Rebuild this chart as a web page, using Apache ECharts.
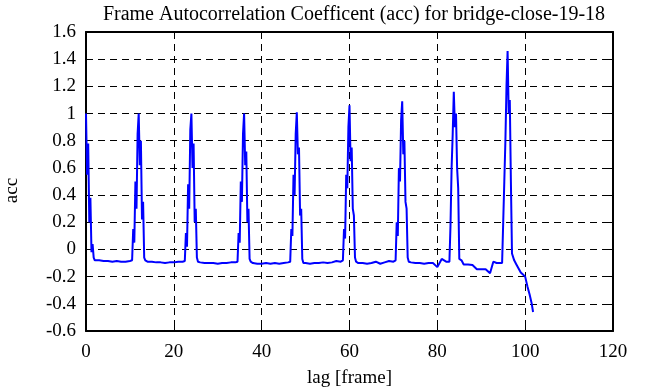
<!DOCTYPE html>
<html>
<head>
<meta charset="utf-8">
<title>Frame Autocorrelation Coefficent</title>
<script src="https://cdn.jsdelivr.net/npm/echarts@6/dist/echarts.min.js"></script>
<style>
	html, body { margin: 0; padding: 0; background: #fff; }
	#main { width: 666px; height: 387px; }
</style>
</head>
<body>
<div id="main"></div>
<script>
// lag [frame] (finer steps around the peaks)
var lags = [
	0, 0.25, 0.5, 0.75, 1, 1.25, 1.5, 1.75, 2, 3, 4, 5, 6, 7, 8, 9, 10,
	10.5, 10.75, 11, 11.25, 11.5, 11.75, 12, 12.25, 12.5, 12.75, 13, 13.25, 13.5,
	14, 15, 16, 17, 18, 19, 20, 21, 22,
	22.5, 22.75, 23, 23.25, 23.5, 23.75, 24, 24.25, 24.5, 24.75, 25, 25.25, 25.5,
	26, 27, 28, 29, 30, 31, 32, 33, 34,
	34.5, 34.75, 35, 35.25, 35.5, 35.75, 36, 36.25, 36.5, 36.75, 37, 37.25, 37.5,
	38, 39, 40, 41, 42, 43, 44, 45, 46,
	46.5, 46.75, 47, 47.25, 47.5, 47.75, 48, 48.25, 48.5, 48.75, 49, 49.25, 49.5,
	50, 51, 52, 53, 54, 55, 56, 57, 58,
	58.5, 58.75, 59, 59.25, 59.5, 59.75, 60, 60.25, 60.5, 60.75, 61, 61.25, 61.5,
	62, 63, 64, 65, 66, 67, 68, 69, 70,
	70.5, 70.75, 71, 71.25, 71.5, 71.75, 72, 72.25, 72.5, 72.75, 73, 73.25, 73.5,
	74, 75, 76, 77, 78, 79, 80, 81, 82,
	82.75, 83, 83.25, 83.5, 83.75, 84, 84.25, 84.5, 84.75, 85,
	85.5, 86, 87, 88, 89, 90, 91, 92, 92.75, 93.5, 94.25, 94.75,
	95, 95.25, 95.5, 95.75, 96, 96.25, 96.5, 96.75, 97,
	97.5, 98, 98.5, 99, 99.5, 100, 100.5, 101, 101.5, 101.8
];

// acc
var acc = [
	1.0, 0.55, 0.78, 0.2, 0.38, -0.02, 0.04, -0.06, -0.08, -0.08, -0.085, -0.085, -0.09, -0.085, -0.09, -0.09, -0.085,
	-0.08, 0.15, 0.05, 0.5, 0.3, 0.85, 1.0, 0.62, 0.8, 0.22, 0.35, -0.06, -0.08,
	-0.09, -0.09, -0.095, -0.095, -0.1, -0.095, -0.095, -0.09, -0.09,
	-0.085, 0.12, 0.02, 0.48, 0.3, 0.88, 1.0, 0.6, 0.78, 0.2, 0.3, -0.06, -0.09,
	-0.095, -0.1, -0.1, -0.1, -0.105, -0.1, -0.1, -0.095, -0.095,
	-0.09, 0.12, 0.05, 0.5, 0.35, 0.85, 1.0, 0.62, 0.72, 0.2, 0.3, -0.07, -0.09,
	-0.1, -0.105, -0.105, -0.1, -0.105, -0.1, -0.105, -0.1, -0.095,
	-0.09, 0.15, 0.1, 0.55, 0.4, 0.85, 1.01, 0.7, 0.75, 0.25, 0.3, -0.07, -0.1,
	-0.1, -0.105, -0.1, -0.1, -0.095, -0.1, -0.095, -0.085, -0.09,
	-0.08, 0.15, 0.08, 0.55, 0.45, 0.9, 1.06, 0.65, 0.75, 0.3, 0.25, -0.06, -0.09,
	-0.1, -0.1, -0.105, -0.1, -0.09, -0.105, -0.095, -0.085, -0.09,
	-0.08, 0.2, 0.1, 0.6, 0.5, 0.95, 1.09, 0.7, 0.8, 0.35, 0.3, -0.06, -0.09,
	-0.095, -0.1, -0.1, -0.105, -0.1, -0.1, -0.13, -0.07, -0.09,
	-0.09, 0.18, 0.6, 0.85, 1.16, 0.9, 1.0, 0.6, 0.45, -0.07,
	-0.08, -0.11, -0.11, -0.115, -0.145, -0.145, -0.145, -0.175, -0.09, -0.1, -0.1, -0.1,
	0.2, 0.5, 0.8, 1.2, 1.46, 1.0, 1.1, 0.5, -0.03,
	-0.08, -0.11, -0.14, -0.17, -0.185, -0.2, -0.27, -0.33, -0.4, -0.46
];

var xTicks = [0, 120, 20];          // min, max, interval
var yTicks = [-0.6, 1.6, 0.2];

window.onload = function() {
	drawAcc(lags, acc);
};

/**
 * acc 曲线
 */
var drawAcc = function(lags, acc) {
	var myChart = echarts.init(document.getElementById('main'));
	var font = 'Liberation Serif';

	var points = [];
	for (var i = 0; i < lags.length; i++) {
		points.push([lags[i], acc[i]]);
	}

	// 边框、刻度、网格
	var border = { show: true, onZero: false, lineStyle: { color: '#000', width: 2 } };
	var ticks = { show: true, inside: true, length: 6, lineStyle: { color: '#000', width: 1 } };
	var grid = { show: true, lineStyle: { color: '#000', width: 1, type: [7, 5] } };
	var label = { fontFamily: font, fontSize: 19, color: '#000' };

	var option = {
		animation: false,
		backgroundColor: '#fff',
		title: {
			text: 'Frame Autocorrelation Coefficent (acc) for bridge-close-19-18',
			left: 349,
			textAlign: 'center',
			top: 0,
			textStyle: { fontFamily: font, fontSize: 20, fontWeight: 'normal', color: '#000' }
		},
		grid: { left: 86, right: 53, top: 32, bottom: 56, outerBoundsMode: 'none' },
		xAxis: [{
			type: 'value',
			min: xTicks[0], max: xTicks[1], interval: xTicks[2],
			name: 'lag [frame]',
			nameLocation: 'middle',
			nameGap: 38,
			nameTextStyle: label,
			axisLine: border, axisTick: ticks, splitLine: grid,
			axisLabel: { fontFamily: font, fontSize: 19, color: '#000', margin: 12 }
		}, {
			type: 'value', position: 'top',
			min: xTicks[0], max: xTicks[1], interval: xTicks[2],
			axisLine: border, axisTick: ticks, splitLine: { show: false },
			axisLabel: { show: false }
		}],
		yAxis: [{
			type: 'value',
			min: yTicks[0], max: yTicks[1], interval: yTicks[2],
			name: 'acc',
			nameLocation: 'middle',
			nameRotate: 90,
			nameGap: 64,
			nameTextStyle: { fontFamily: font, fontSize: 19, color: '#000', padding: [0, 0, 0, -18] },
			axisLine: border, axisTick: ticks, splitLine: grid,
			axisLabel: { fontFamily: font, fontSize: 19, color: '#000', margin: 10 }
		}, {
			type: 'value', position: 'right',
			min: yTicks[0], max: yTicks[1], interval: yTicks[2],
			axisLine: border, axisTick: ticks, splitLine: { show: false },
			axisLabel: { show: false }
		}],
		series: [{
			name: 'acc',
			type: 'line',
			data: points,
			showSymbol: false,
			lineStyle: { color: '#0000ff', width: 2 }
		}]
	};
	myChart.setOption(option);
};
</script>
</body>
</html>
